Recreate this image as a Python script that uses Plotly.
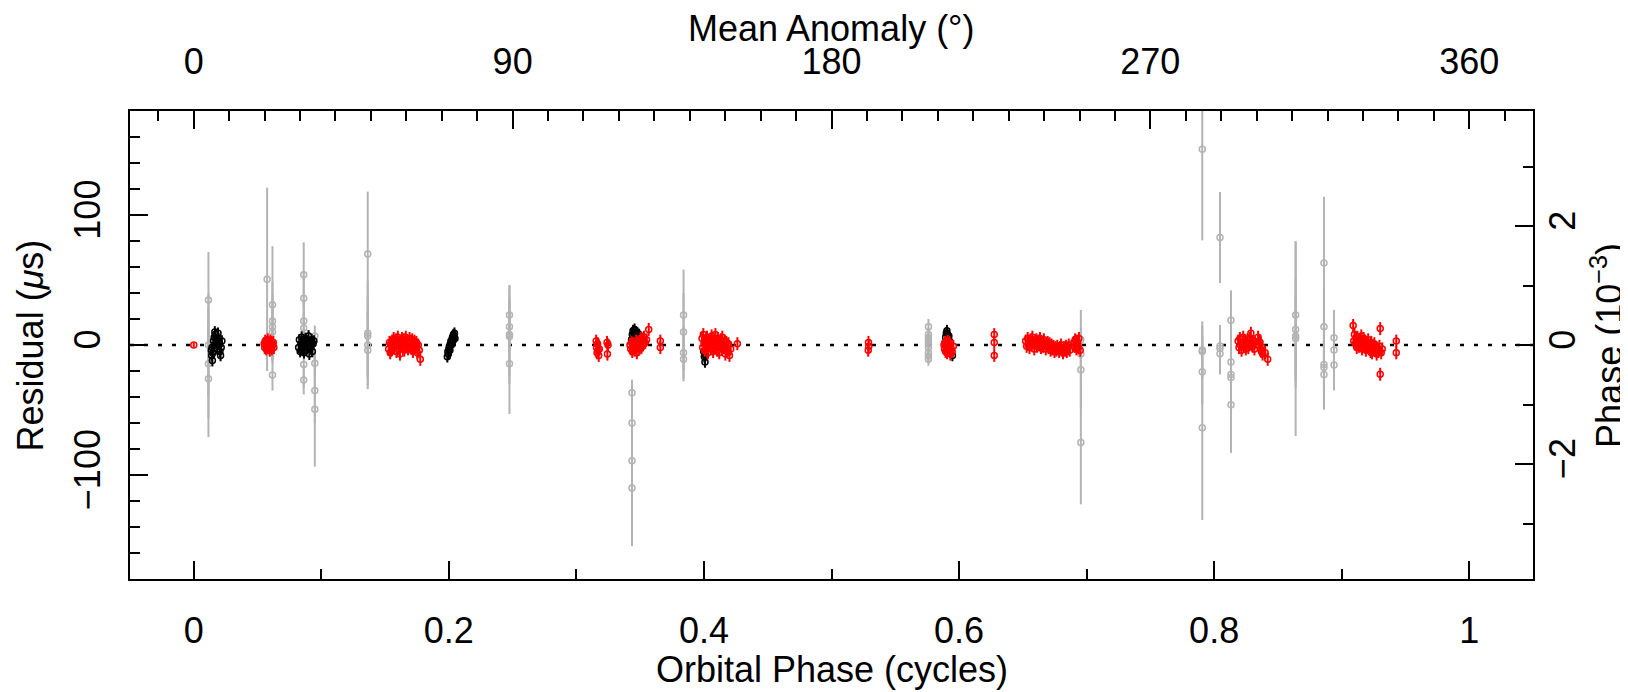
import plotly.graph_objects as go

# pulse period (ms) used for the right-hand phase axis
P_MS = 45.77

# ---- grey TOAs (large errors)
gray_phase = [0.0115, 0.0115, 0.0115, 0.0115,
              0.0575,
              0.0617, 0.0617, 0.0617, 0.0617, 0.0617,
              0.0862, 0.0862, 0.0862, 0.0862, 0.0862, 0.0862,
              0.0949, 0.0949, 0.0949, 0.0949,
              0.1364, 0.1364, 0.1364, 0.1364, 0.1364,
              0.2475, 0.2475, 0.2475, 0.2475, 0.2475,
              0.3436, 0.3436, 0.3436, 0.3436,
              0.3840, 0.3840, 0.3840, 0.3840,
              0.5760, 0.5760, 0.5760, 0.5760, 0.5760, 0.5760, 0.5760, 0.5760, 0.5760,
              0.6955, 0.6955, 0.6955, 0.6955,
              0.7907, 0.7907, 0.7907, 0.7907, 0.7907,
              0.8046, 0.8046, 0.8046, 0.8046,
              0.8132, 0.8132, 0.8132, 0.8132, 0.8132,
              0.8639, 0.8639, 0.8639, 0.8639,
              0.8861, 0.8861, 0.8861, 0.8861, 0.8861,
              0.8940, 0.8940, 0.8940]
gray_resid = [34.6, 0, -14.4, -25.9,
              50.5,
              31, 18.5, 14, 10, -23,
              54, 36, 18.5, 13, -15, -27,
              7, -14, -35, -49.5,
              70, 9, 7, 0, -4,
              23, 14, 8, 6.6, -14.4,
              -36.7, -60, -89, -110,
              23, 10, -6, -11,
              14, 8, 5.6, 3, 0.5, -2, -6, -8.5, -11,
              4, -7, -19, -75,
              150.5, -3.8, -5, -20.5, -63.6,
              82.6, -0.8, -2.6, -6.7,
              19, -13, -22.6, -25, -46,
              23, 12, 7, 5,
              63, 14, -15, -17.4, -22.6,
              5.6, -3.8, -15.4]
gray_err = [37, 40, 42, 45,
            70.5,
            45, 30, 25, 20, 12,
            25, 20, 15, 12, 18, 11,
            8, 10, 25, 44,
            48, 40, 30, 25, 30,
            23, 20, 38, 30, 38.6,
            10, 20, 30, 44.6,
            35, 30, 20, 17,
            6, 5, 6, 5, 6, 5, 6, 5, 5,
            23, 20, 30, 47.6,
            70, 22, 20, 25, 71,
            35, 12, 18, 16,
            23, 20, 25, 28, 37,
            56, 40, 30, 75,
            51, 30, 25, 32, 27,
            21.4, 20, 19.6]

# ---- black TOAs
black_phase = [0.0138, 0.0140, 0.0143, 0.0146, 0.0150, 0.0155, 0.0160, 0.0165, 0.0170, 0.0175,
               0.0180, 0.0185, 0.0190, 0.0195, 0.0200, 0.0205, 0.0210, 0.0215, 0.0220,
               0.0822, 0.0828, 0.0834, 0.0840, 0.0846, 0.0852, 0.0858, 0.0864, 0.0870, 0.0876,
               0.0882, 0.0888, 0.0894, 0.0900, 0.0906, 0.0912, 0.0918, 0.0924, 0.0930, 0.0936, 0.0942,
               0.1988, 0.1992, 0.1996, 0.2000, 0.2004, 0.2008, 0.2012, 0.2016, 0.2020, 0.2024,
               0.2028, 0.2032, 0.2036, 0.2040, 0.2044, 0.2048,
               0.3432, 0.3438, 0.3444, 0.3450, 0.3456, 0.3462, 0.3468, 0.3474, 0.3480, 0.3486, 0.3492,
               0.3998, 0.4003, 0.4008, 0.4013, 0.4018,
               0.5890, 0.5895, 0.5900, 0.5905, 0.5910, 0.5915, 0.5920, 0.5925, 0.5948]
black_resid = [-4, -8, -2, -12, -6, 3, 6, 10, 8, 4,
               0, -3, 9, 5, 2, -5, -8, -2, 3,
               -2, 4, -5, 1, 6, -3, 2, -6, 0, 5,
               -4, 3, -1, 7, -7, 2, -2, 4, -5, 1, 3,
               -9, -5, -7, -3, -1, -4, 1, 3, 0, 4,
               6, 3, 8, 6, 9, 5,
               4, 8, 11, 9, 12, 7, 10, 6, 9, 5, 8,
               -5, -9, -13, -8, -3,
               2, 6, 9, 11, 8, 5, 7, 3, -8]
black_err = 4.5

# ---- red TOAs
red_phase = [0.0552, 0.0556, 0.0560, 0.0564, 0.0568, 0.0572, 0.0576, 0.0580, 0.0584, 0.0588,
             0.0592, 0.0596, 0.0600, 0.0604, 0.0608, 0.0612, 0.0616, 0.0620, 0.0624, 0.0628,
             0.1528, 0.1534, 0.1540, 0.1545, 0.1550, 0.1556, 0.1561, 0.1567, 0.1572, 0.1578,
             0.1583, 0.1589, 0.1594, 0.1600, 0.1606, 0.1611, 0.1617, 0.1622, 0.1628, 0.1633,
             0.1639, 0.1645, 0.1650, 0.1656, 0.1662, 0.1668, 0.1674, 0.1680, 0.1686, 0.1692,
             0.1700, 0.1706, 0.1712, 0.1718, 0.1724, 0.1730, 0.1738, 0.1745, 0.1752, 0.1760,
             0.1768, 0.1776,
             0.3155, 0.3158, 0.3162, 0.3166, 0.3170, 0.3175, 0.3180, 0.3240, 0.3243, 0.3248,
             0.3420, 0.3426, 0.3432, 0.3438, 0.3444, 0.3450, 0.3456, 0.3462, 0.3468, 0.3474,
             0.3480, 0.3486, 0.3492, 0.3498, 0.3504, 0.3510, 0.3516, 0.3522, 0.3530, 0.3540,
             0.3550, 0.3567,
             0.3658, 0.3658,
             0.3985, 0.3990, 0.3995, 0.4000, 0.4006, 0.4012, 0.4018, 0.4024, 0.4030, 0.4036,
             0.4042, 0.4048, 0.4054, 0.4060, 0.4066, 0.4072, 0.4078, 0.4084, 0.4090, 0.4096,
             0.4102, 0.4108, 0.4114, 0.4120, 0.4126, 0.4132, 0.4138, 0.4144, 0.4150, 0.4156,
             0.4162, 0.4168, 0.4176, 0.4184, 0.4192, 0.4200, 0.4210, 0.4262,
             0.5288, 0.5290, 0.5292,
             0.5882, 0.5886, 0.5890, 0.5894, 0.5898, 0.5902, 0.5906, 0.5910, 0.5914, 0.5918,
             0.5922, 0.5926, 0.5932, 0.5938, 0.5946, 0.5955,
             0.6276, 0.6276, 0.6276,
             0.6522, 0.6530, 0.6538, 0.6545, 0.6552, 0.6560, 0.6568, 0.6575, 0.6582, 0.6590,
             0.6598, 0.6605, 0.6612, 0.6620, 0.6628, 0.6635, 0.6642, 0.6650, 0.6658, 0.6665,
             0.6672, 0.6680, 0.6688, 0.6695, 0.6702, 0.6710, 0.6718, 0.6725, 0.6732, 0.6740,
             0.6748, 0.6755, 0.6762, 0.6770, 0.6778, 0.6785, 0.6792, 0.6800, 0.6808, 0.6815,
             0.6822, 0.6830, 0.6838, 0.6845, 0.6852, 0.6860, 0.6868,
             0.6900, 0.6905, 0.6910, 0.6915, 0.6920, 0.6925, 0.6930, 0.6935, 0.6940, 0.6950,
             0.8188, 0.8195, 0.8202, 0.8208, 0.8215, 0.8222, 0.8228, 0.8235, 0.8242, 0.8248,
             0.8255, 0.8262, 0.8268, 0.8275, 0.8282, 0.8288, 0.8295, 0.8302, 0.8310, 0.8316,
             0.8345, 0.8350, 0.8355, 0.8360, 0.8365, 0.8370, 0.8375, 0.8380, 0.8400, 0.8420,
             0.9090, 0.9095, 0.9100, 0.9106, 0.9112, 0.9118, 0.9124, 0.9130, 0.9136, 0.9142,
             0.9148, 0.9154, 0.9160, 0.9166, 0.9172, 0.9178, 0.9184, 0.9190, 0.9196, 0.9202,
             0.9208, 0.9214, 0.9220, 0.9226, 0.9232, 0.9238, 0.9244, 0.9250, 0.9256, 0.9262,
             0.9268, 0.9274, 0.9280, 0.9288, 0.9296, 0.9302, 0.9302, 0.9310, 0.9318,
             0.9428, 0.9428]
red_resid = [1, -2, 3, 0, -3, 2, -1, 4, -2, 1,
             0, -4, 3, -1, 2, -3, 1, 0, 2, -2,
             -3, 2, -6, 1, -4, 3, -1, 5, -2, 0,
             4, -5, 2, 6, -3, 1, -7, 3, 0, 5,
             -2, 4, -4, 1, 6, -1, 3, -3, 2, 5,
             0, -2, 4, -5, 1, 3, -1, 2, -6, 0,
             -4, -11,
             3, -2, -6, 1, -4, -8, -3, 2, -7, 0,
             0, -3, 2, -5, 1, -2, -4, 0, 3, -6,
             -1, 2, -3, 1, 5, -2, 4, 0, 6, 2,
             4, 12,
             3, -2,
             5, -2, 8, 1, -4, 3, -1, 6, -6, 2,
             0, 4, -3, 7, 1, -5, 3, -2, 8, 0,
             -4, 5, 2, -6, 1, 4, -3, 6, 0, -2,
             3, -7, 2, -4, 1, -8, -3, 1,
             -4, 2, -1,
             0, -3, 2, -5, -1, 1, -6, 3, -2, 0,
             -4, 2, -7, -3, -5, -1,
             8, 2, -8,
             3, -1, 5, 1, -2, 4, 0, 6, 2, -3,
             1, 4, -1, 3, 0, 5, -2, 2, -1, 4,
             1, -3, 0, 2, -2, 1, -4, 0, -3, -1,
             -5, -2, -4, -1, -3, -5, -2, 0, -4, -6,
             -2, -4, -1, -5, -3, 0, -4,
             2, -1, 4, 0, -3, 3, 1, -2, 5, -4,
             3, -2, 5, 0, -4, 2, 6, -1, 3, -3,
             1, 4, -2, 0, 5, 9, 2, -1, 3, -3,
             6, 3, -1, 2, -3, -5, -2, -7, -6, -11,
             15, 3, 8, 1, 5, -2, 6, 2, -1, 4,
             0, 7, -3, 2, 5, -1, 3, -4, 1, -2,
             4, -3, 0, -5, 2, -6, -1, -3, 1, -4,
             -2, -7, -3, -5, -1, 12.6, -22.5, -6, -3,
             3, -6]
red_err = 5.0

# the lone red point at phase 0
red0_phase = [0.0]
red0_resid = [0.0]
red0_err = [1.5]

x_ticks = [0, 0.2, 0.4, 0.6, 0.8, 1]
x_ticklabels = ["0", "0.2", "0.4", "0.6", "0.8", "1"]
top_ticks = [0, 90, 180, 270, 360]
y_ticks = [-100, 0, 100]
y_ticklabels = ["\u2212100", "0", "100"]
y2_ticks = [-2, 0, 2]
y2_ticklabels = ["\u22122", "0", "2"]

assert len(gray_phase) == len(gray_resid) == len(gray_err)
assert len(black_phase) == len(black_resid)
assert len(red_phase) == len(red_resid)

GRAY = "#b3b3b3"
FONT = "Liberation Sans"
FS = 36


def add_toas(fig, x, y, err, color, err_type="data"):
    if err_type == "data":
        ey = dict(type="data", array=err, width=0, thickness=2, color=color)
    else:
        ey = dict(type="constant", value=err, width=0, thickness=2, color=color)
    fig.add_trace(go.Scatter(x=x, y=y, mode="markers", error_y=ey,
                             marker=dict(symbol="circle-open", size=6, color=color,
                                         line=dict(width=1.5, color=color)),
                             hoverinfo="skip", showlegend=False))


fig = go.Figure()
add_toas(fig, gray_phase, gray_resid, gray_err, GRAY)
add_toas(fig, black_phase, black_resid, black_err, "black", "constant")
add_toas(fig, red_phase, red_resid, red_err, "red", "constant")
add_toas(fig, red0_phase, red0_resid, red0_err, "red")

# dummy trace so the top / right axes get drawn
fig.add_trace(go.Scatter(x=[0], y=[0], xaxis="x2", yaxis="y2", mode="markers",
                         marker=dict(opacity=0), hoverinfo="skip", showlegend=False))

fig.add_hline(y=0, line=dict(color="black", width=2.5, dash="4px,10px"), layer="below")

ax_common = dict(showline=True, linewidth=2, linecolor="black", showgrid=False,
                 zeroline=False, ticks="inside", ticklen=18, tickwidth=2, tickcolor="black",
                 tickfont=dict(family=FONT, size=FS, color="black"))


def minor(step):
    return dict(dtick=step, tick0=0, ticks="inside", ticklen=10, tickwidth=2, tickcolor="black")


fig.update_layout(
    width=1628, height=692,
    margin=dict(l=122, r=103, t=103, b=121),
    paper_bgcolor="white", plot_bgcolor="white",
    showlegend=False,
    font=dict(family=FONT, size=FS, color="black"),
    xaxis=dict(range=[-0.05, 1.05], tickvals=x_ticks, ticktext=x_ticklabels,
               minor=minor(0.1), ticklabelstandoff=19, **ax_common),
    xaxis2=dict(range=[-18, 378], overlaying="x", side="top", anchor="y", tickvals=top_ticks,
                minor=minor(10), ticklabelstandoff=21, **ax_common),
    yaxis=dict(range=[-180, 180], tickvals=y_ticks, ticktext=y_ticklabels, tickangle=-90,
               minor=minor(20), ticklabelstandoff=14, **ax_common),
    yaxis2=dict(range=[-180 / P_MS, 180 / P_MS], overlaying="y", side="right", anchor="x",
                tickvals=y2_ticks, ticktext=y2_ticklabels, tickangle=-90,
                minor=minor(1), ticklabelstandoff=-3, **ax_common),
)

# axis titles
fig.add_annotation(text="Orbital Phase (cycles)", xref="paper", yref="paper",
                   x=0.5, y=-0.2415, xanchor="center", yanchor="bottom", showarrow=False)
fig.add_annotation(text="Mean Anomaly (\u00b0)", xref="paper", yref="paper",
                   x=0.5, y=1.2244, xanchor="center", yanchor="top", showarrow=False)
fig.add_annotation(text="Residual (<i>\u03bc</i>s)", xref="paper", yref="paper",
                   x=-0.0870, y=0.5, xanchor="left", yanchor="middle", textangle=-90,
                   showarrow=False)
fig.add_annotation(text="Phase (10<sup>\u22123</sup>)", xref="paper", yref="paper",
                   x=1.0705, y=0.5, xanchor="right", yanchor="middle", textangle=-90,
                   showarrow=False)

fig.write_html("out.html")
